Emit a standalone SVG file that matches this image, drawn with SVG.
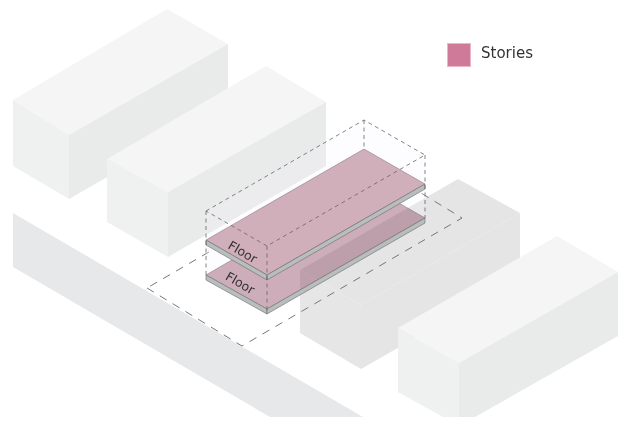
<svg xmlns="http://www.w3.org/2000/svg" width="621" height="421" viewBox="0 0 621 421">
<style>
.top{fill:#f5f5f5}.left{fill:#eff0f0}.right{fill:#e9eaea}
.ctop{fill:#e5e5e5}.cleft{fill:#e6e6e6}.cright{fill:#e5e5e5}
.floor{fill:#d0afba;stroke:#7a6f74;stroke-width:.5;mix-blend-mode:multiply}
.edge{fill:#b9bebd;stroke:#666a6a;stroke-width:.6}
.dash{fill:none;stroke:#666;stroke-width:.8;stroke-dasharray:4 3.500}
.site{fill:none;stroke:#777;stroke-width:1;stroke-dasharray:8 7}
.lbl{font-family:"DejaVu Sans",sans-serif;fill:#333}
</style>
<rect width="621" height="421" fill="#fff"/>
<g id="road"><polygon points="13,213 363,417 270,417 13,267" fill="#e7e8e9"/></g>
<g id="building-a">
<polygon class="top" points="13,100 167,9 228,44 69,135"/>
<polygon class="left" points="13,100 69,135 69,199 13,166"/>
<polygon class="right" points="69,135 228,44 228,108 69,199"/>
</g>
<g id="building-b">
<polygon class="top" points="107,159 266,66 326,102 168,192"/>
<polygon class="left" points="107,159 168,192 168,257 107,222"/>
<polygon class="right" points="168,192 326,102 326,166 168,257"/>
</g>
<g id="building-c">
<polygon class="ctop" points="300,270 458,179 520,213 361,305"/>
<polygon class="cleft" points="300,270 361,305 361,369 300,333"/>
<polygon class="cright" points="361,305 520,213 520,278 361,369"/>
</g>
<g id="building-d">
<polygon class="top" points="398,328 557,236 618,272 459,363"/>
<polygon class="left" points="398,328 459,363 459,417 443,417 398,392"/>
<polygon class="right" points="459,363 618,272 618,336 475,417 459,417"/>
</g>
<g id="connectors">
<polygon class="site" points="147,288 242,346 462,218 367,160"/>
</g>
<g id="volume"><polygon points="206,211 364,120 425,155 425,218 267,310 206,276" fill="#f6f6ff" fill-opacity=".22"/></g>
<g id="floor-lower">
<polygon class="floor" points="206,275 364,183 425,218 267,309"/>
<polygon class="edge" points="206,275 267,309 267,314 206,280"/>
<polygon class="edge" points="267,309 425,218 425,223 267,314"/>
<text class="lbl" font-size="12.500" transform="translate(224.500,279) rotate(30)">Floor</text>
</g>
<g id="floor-upper">
<polygon class="floor" style="mix-blend-mode:normal" points="206,240 364,149 425,184 267,275"/>
<polygon class="edge" points="206,240 267,275 267,280 206,245"/>
<polygon class="edge" points="267,275 425,184 425,189 267,280"/>
<text class="lbl" font-size="12.500" transform="translate(227,248) rotate(30)">Floor</text>
</g>
<g id="box-lines">
<path class="dash" d="M206,211 L364,120 L425,155 L267,246 Z M206,211 V276 M267,246 V310 M425,155 V218 M364,120 V149"/>
</g>
<g id="legend">
<rect x="447.500" y="43.500" width="23" height="23" fill="#cf7a99" stroke="#e8b8c8" stroke-width="1"/>
<text class="lbl" x="481" y="58" font-size="15">Stories</text>
</g>
</svg>
